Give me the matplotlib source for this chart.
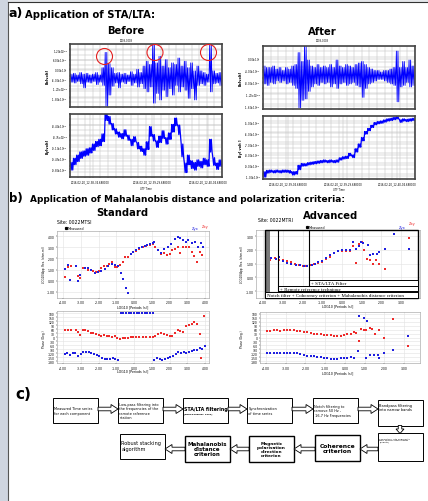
import numpy as np
import matplotlib
matplotlib.use("Agg")
import matplotlib.pyplot as plt
from matplotlib.patches import Rectangle, Circle, FancyArrow

W, H = 428, 502

# ---- panel a: time series envelopes (per bin, units of 1e-3 volt) ----
bx_before_hi = [-0.30, -0.25, -0.35, -0.20, -0.30, -0.25, -0.35, -0.30, -0.20, -0.35,
                0.10, 1.05, 0.35, 0.10, -0.25, -0.20, -0.30, -0.25, -0.35, -0.15,
                -0.30, 0.00, -0.20, 0.20, 0.50, 0.30, 1.60, 0.40, 0.80, 0.20,
                0.60, 0.10, 0.40, 0.30, 0.70, 0.20, 0.50, 0.10, 0.40, -0.10,
                0.20, -0.10, -0.20, -0.30, 1.55, -0.10, -0.25, -0.20]
bx_before_lo = [-0.80, -0.85, -0.75, -0.90, -1.15, -0.80, -0.85, -0.75, -0.95, -0.80,
                -1.00, -2.30, -1.60, -1.05, -0.85, -1.15, -0.80, -0.90, -0.75, -1.00,
                -0.85, -1.10, -0.90, -1.20, -1.40, -1.10, -2.10, -1.50, -1.90, -1.30,
                -1.70, -1.20, -1.60, -1.00, -1.40, -1.10, -1.30, -1.80, -1.20, -1.90,
                -1.00, -0.90, -1.00, -0.80, -1.40, -0.90, -0.85, -1.00]
by_before = [-9.70, -9.55, -9.45, -9.35, -9.30, -9.25, -9.20, -9.10, -9.00, -8.95,
             -8.80, -8.10, -8.25, -8.45, -8.60, -8.70, -8.75, -8.65, -8.80, -8.95,
             -8.85, -9.05, -9.15, -9.25, -9.05, -8.60, -8.80, -9.00, -8.85, -8.70,
             -8.90, -8.75, -8.50, -8.30, -8.55, -9.20, -9.75, -9.50, -9.65, -9.70,
             -9.60, -9.65, -9.55, -9.60, -9.05, -9.55, -9.70, -9.60]
by_before_sp = [0.12, 0.10, 0.10, 0.10, 0.08, 0.10, 0.08, 0.10, 0.08, 0.10,
                0.12, 0.15, 0.12, 0.10, 0.08, 0.08, 0.08, 0.10, 0.08, 0.10,
                0.08, 0.10, 0.08, 0.10, 0.12, 0.15, 0.10, 0.10, 0.10, 0.12,
                0.10, 0.10, 0.12, 0.12, 0.15, 0.20, 0.15, 0.15, 0.12, 0.12,
                0.10, 0.10, 0.10, 0.10, 0.20, 0.12, 0.10, 0.10]
bx_after_hi = [-0.25, -0.30, -0.30, -0.25, -0.35, -0.30, -0.40, -0.30, -0.35, -0.25,
               -0.20, 0.20, -0.10, 0.42, -0.05, -0.25, -0.30, -0.20, -0.30, -0.25,
               -0.30, -0.20, -0.30, -0.05, -0.25, -0.30, -0.20, -0.25, -0.30, -0.20,
               -0.15, -0.10, -0.20, -0.30, -0.35, -0.40, -0.40, -0.45, -0.40, -0.40,
               -0.35, -0.30, 0.25, -0.30, -0.10, -0.30, -0.05, -0.25]
bx_after_lo = [-0.85, -0.90, -0.80, -0.85, -0.75, -0.80, -0.75, -0.85, -0.80, -0.90,
               -1.00, -1.65, -1.40, -1.35, -1.10, -0.95, -0.85, -0.90, -0.80, -0.85,
               -0.80, -0.95, -0.85, -1.00, -0.85, -0.80, -0.90, -0.85, -0.80, -0.90,
               -0.95, -1.30, -1.00, -0.85, -0.80, -0.75, -0.70, -0.70, -0.75, -0.80,
               -0.85, -0.90, -1.45, -0.95, -0.90, -0.80, -0.95, -0.90]
by_after = [-9.85, -9.60, -9.55, -9.60, -9.55, -9.60, -9.55, -9.55, -9.60, -9.75,
            -9.70, -9.20, -8.95, -8.95, -8.85, -8.80, -8.75, -8.70, -8.65, -8.60,
            -8.65, -8.60, -8.65, -8.60, -8.40, -8.30, -8.25, -8.00, -8.15, -7.60,
            -7.15, -6.55, -5.95, -5.65, -5.35, -5.10, -5.00, -4.95, -4.85, -4.75,
            -4.70, -4.62, -4.55, -4.85, -4.75, -4.80, -4.75, -4.70]
by_after_sp = [0.25, 0.12, 0.10, 0.10, 0.10, 0.10, 0.10, 0.10, 0.12, 0.15,
               0.12, 0.20, 0.12, 0.10, 0.10, 0.10, 0.10, 0.10, 0.10, 0.10,
               0.10, 0.10, 0.10, 0.10, 0.10, 0.10, 0.10, 0.12, 0.12, 0.15,
               0.15, 0.15, 0.12, 0.10, 0.10, 0.10, 0.10, 0.10, 0.10, 0.10,
               0.10, 0.10, 0.10, 0.12, 0.10, 0.10, 0.10, 0.10]

before_time_ticks = [6.3, 25.9, 43.5]
before_time_labels = ["2016-02-20_12-38-34.688000", "2016-02-20_12-39-29.688000",
                      "2016-02-20_12-40-04.688000"]
after_time_ticks = [7.9, 25.2, 42.3]
after_time_labels = ["2016-02-20_12-39-04.688000", "2016-02-20_12-39-29.688000",
                     "2016-02-20_12-40-04.688000"]

bx_before_ticks = [1.2, 0.6, 0.0, -0.6, -1.2, -1.8]
bx_before_tl = ["1.20x10$^{-3}$", "6.00x10$^{-4}$", "0.00x10$^{0}$", "-6.00x10$^{-4}$",
                "-1.20x10$^{-3}$", "-1.80x10$^{-3}$"]
by_before_ticks = [-8.40, -8.75, -9.10, -9.45, -9.80]
by_before_tl = ["-8.40x10$^{-3}$", "-8.75x10$^{-3}$", "-9.10x10$^{-3}$",
                "-9.45x10$^{-3}$", "-9.80x10$^{-3}$"]
bx_after_ticks = [0.0, -0.4, -0.8, -1.2, -1.6]
bx_after_tl = ["0.00x10$^{0}$", "-4.00x10$^{-4}$", "-8.00x10$^{-4}$",
               "-1.20x10$^{-3}$", "-1.60x10$^{-3}$"]
by_after_ticks = [-5.0, -6.0, -7.0, -8.0, -9.0, -10.0]
by_after_tl = ["-5.00x10$^{-3}$", "-6.00x10$^{-3}$", "-7.00x10$^{-3}$",
               "-8.00x10$^{-3}$", "-9.00x10$^{-3}$", "-1.00x10$^{-2}$"]

# ---- panel b: apparent resistivity and phase ----
std_x_b = [-3.90, -3.72, -3.59, -3.28, -3.15, -3.02, -2.78, -2.60, -2.42, -2.21,
           -2.05, -1.88, -1.65, -1.46, -1.27, -1.10, -0.92, -0.76, -0.61, -0.46,
           -0.33, -0.18, -0.05, 0.12, 0.30, 0.45, 0.60, 0.75, 0.90, 1.05,
           1.15, 1.35, 1.50, 1.70, 1.90, 2.10, 2.30, 2.45, 2.60, 2.75,
           2.90, 3.05, 3.25, 3.45, 3.60, 3.75, 3.90]
std_res_b = [1.08, 1.38, 0.04, 1.29, -0.02, 0.55, 1.14, 1.10, 1.00, 0.70,
             0.78, 0.88, 1.02, 1.28, 1.50, 1.40, 1.30, 0.70, 0.19, -0.61,
             -1.06, 2.42, 2.57, 2.75, 2.90, 3.00, 3.10, 3.20, 3.28, 3.35,
             3.45, 2.75, 2.50, 2.85, 3.00, 3.30, 3.75, 3.95, 3.85, 3.65,
             3.50, 3.60, 3.40, 3.45, 3.00, 3.35, 3.00]
std_x_r = [-3.90, -3.72, -3.55, -3.28, -3.15, -3.02, -2.90, -2.78, -2.60, -2.45,
           -2.30, -2.15, -2.00, -1.85, -1.70, -1.55, -1.40, -1.25, -1.10, -0.95,
           -0.80, -0.65, -0.50, -0.35, -0.20, -0.05, 0.10, 0.30, 0.50, 0.70,
           0.90, 1.05, 1.20, 1.35, 1.50, 1.70, 1.85, 2.00, 2.15, 2.30,
           2.45, 2.60, 2.75, 2.95, 3.10, 3.25, 3.40, 3.55, 3.70, 3.85]
std_res_r = [0.35, 1.20, 1.30, 1.35, 0.45, 0.25, 1.15, 1.15, 1.00, 1.00,
             0.85, 0.80, 0.90, 1.10, 1.30, 1.35, 1.50, 1.70, 1.20, 1.20,
             1.45, 1.70, 2.10, 2.10, 2.40, 2.55, 2.70, 2.85, 3.00, 3.10,
             3.20, 3.30, 3.05, 2.75, 2.40, 2.45, 2.30, 2.40, 2.75, 2.85,
             3.05, 2.50, 3.05, 3.05, 3.05, 2.60, 2.20, 1.70, 2.55, 2.30]
std_phx_r = [-3.90, -3.72, -3.55, -3.28, -3.15, -3.02, -2.90, -2.78, -2.60, -2.45,
             -2.30, -2.15, -2.00, -1.85, -1.70, -1.55, -1.40, -1.25, -1.10, -0.95,
             -0.80, -0.65, -0.50, -0.35, -0.20, -0.05, 0.10, 0.30, 0.50, 0.70,
             0.90, 1.05, 1.20, 1.35, 1.50, 1.70, 1.85, 2.00, 2.15, 2.30,
             2.45, 2.60, 2.75, 2.95, 3.10, 3.25, 3.40, 3.55, 3.70, 3.75, 3.95]
std_ph_r = [50, 50, 50, 55, 35, 15, 50, 50, 45, 30,
            30, 20, 15, 10, 12, 10, 10, 0, 5, -10,
            -15, -10, -5, -5, -3, -3, -2, 0, 0, 0,
            0, 2, 10, 20, 30, 20, 15, 10, 5, 30,
            55, 45, 35, 85, 90, 100, 110, 100, 20, -160, 160]
std_phx_b = [-3.90, -3.75, -3.60, -3.45, -3.30, -3.15, -3.00, -2.85, -2.70, -2.55,
             -2.40, -2.25, -2.10, -1.95, -1.80, -1.65, -1.50, -1.35, -1.20, -1.05,
             -0.90, -0.75, -0.60, -0.45, -0.30, -0.15, 0.00, 0.15, 0.30, 0.45,
             0.60, 0.75, 0.90, 1.05, 1.15, 1.30, 1.45, 1.60, 1.75, 1.90,
             2.05, 2.20, 2.35, 2.50, 2.65, 2.80, 2.95, 3.10, 3.25, 3.40,
             3.55, 3.70, 3.85, 4.00]
std_ph_b = [-125, -120, -135, -120, -120, -140, -125, -115, -115, -115,
            -120, -130, -135, -145, -160, -165, -165, -163, -160, -168,
            -175, 178, 178, 178, 178, 178, 178, 178, 178, 178,
            178, 178, 178, 178, -175, -160, -168, -175, -165, -155,
            -150, -140, -125, -115, -120, -115, -120, -110, -105, -95,
            -95, -80, -90, -65]

adv_x_b = [-3.80, -3.58, -3.35, -3.18, -2.98, -2.78, -2.56, -2.34, -2.13, -1.93,
           -1.76, -1.54, -1.37, -1.20, -1.00, -0.81, -0.60, -0.38, -0.18, 0.02,
           0.20, 0.41, 0.55, 0.70, 0.87, 0.96, 1.09, 1.30, 1.43, 1.60,
           1.77, 1.90, 2.16, 2.62, 3.38]
adv_res_b = [1.55, 1.42, 1.35, 1.50, 1.16, 1.06, 0.99, 0.92, 0.87, 0.82,
             0.80, 0.87, 0.99, 1.08, 1.18, 1.38, 1.60, 1.79, 1.91, 1.96,
             1.96, 1.96, 2.54, 2.03, 2.25, 2.56, 2.49, 2.32, 1.64, 1.71,
             1.71, 1.84, 2.08, 3.17, 2.08]
adv_x_r = [-3.80, -3.63, -3.40, -3.18, -3.00, -2.80, -2.60, -2.40, -2.20, -2.00,
           -1.80, -1.60, -1.40, -1.20, -1.00, -0.80, -0.60, -0.40, -0.20, 0.00,
           0.20, 0.40, 0.55, 0.70, 0.84, 1.00, 1.14, 1.26, 1.43, 1.57,
           1.72, 1.89, 2.16, 3.38]
adv_res_r = [1.47, 1.28, 1.42, 1.28, 1.25, 1.20, 1.13, 1.00, 0.90, 0.85,
             0.82, 0.88, 0.98, 1.05, 1.12, 1.30, 1.50, 1.75, 1.88, 1.95,
             1.95, 1.95, 2.27, 1.06, 2.39, 2.56, 2.00, 1.35, 1.23, 0.99,
             1.23, 0.94, 0.58, 2.88]
adv_phx_r = [-3.95, -3.78, -3.61, -3.44, -3.27, -3.10, -2.93, -2.76, -2.59, -2.42,
             -2.25, -2.08, -1.91, -1.74, -1.57, -1.40, -1.23, -1.06, -0.89, -0.72,
             -0.55, -0.38, -0.21, -0.04, 0.13, 0.30, 0.45, 0.58, 0.70, 0.84,
             0.97, 1.09, 1.26, 1.40, 1.55, 1.72, 1.99, 2.44, 3.20]
adv_ph_r = [52, 52, 54, 55, 53, 55, 56, 55, 55, 53,
            50, 45, 40, 35, 30, 27, 25, 22, 20, 17,
            12, 10, 14, 20, 25, 28, 45, 32, -25, 65,
            55, 60, 75, 62, 25, 55, -5, 140, -65]
adv_phx_b = [-3.95, -3.78, -3.61, -3.44, -3.27, -3.10, -2.93, -2.76, -2.59, -2.42,
             -2.25, -2.08, -1.91, -1.74, -1.57, -1.40, -1.23, -1.06, -0.89, -0.72,
             -0.55, -0.38, -0.21, -0.04, 0.13, 0.30, 0.45, 0.67, 0.72, 0.96,
             1.10, 1.09, 1.30, 1.48, 1.68, 1.75, 1.99, 2.44, 3.20]
adv_ph_b = [-122, -120, -120, -118, -120, -118, -115, -117, -118, -122,
            -125, -130, -140, -145, -142, -148, -150, -155, -158, -162,
            -168, -165, -160, -158, -155, -150, -158, -100, 165, 150,
            130, -155, -135, -135, -135, -160, -120, -97, 10]

# ---- panel c: flowchart ----
flow_top = ["Measured Time series\nfor each component",
            "Low-pass filtering into\nthe frequencies of the\nremote reference\nstation",
            "STA/LTA filtering",
            "Synchronization\nof time series",
            "Notch filtering to\nremove 50 Hz ,\n 16.7 Hz Frequencies",
            "Bandpass filtering\ninto narrow bands"]
flow_bottom = ["Robust stacking\nalgorithm",
               "Mahalanobis\ndistance\ncriterion",
               "Magnetic\npolarisation\ndirection\ncriterion",
               "Coherence\ncriterion",
               "Separation into segments\nwith specific time length\n(Events)"]

BLUE = "#1f1fe0"
RED = "#ee2b2b"
GRIDC = "#bdbdbd"


def rect(x0, y0, x1, y1):
    return [x0 / W, 1 - y1 / H, (x1 - x0) / W, (y1 - y0) / H]


fig = plt.figure(figsize=(W / 100, H / 100), dpi=100)

bg = fig.add_axes([0, 0, 1, 1], zorder=-5)
bg.set_xlim(0, W)
bg.set_ylim(H, 0)
bg.axis("off")
bg.add_patch(Rectangle((0, 0), 8, H, fc="#cfd5e0", ec="none"))
bg.add_patch(Rectangle((8, 0), W - 8, 3, fc="#e4e6ea", ec="none"))
bg.plot([8, 8], [3, H], color="#555555", lw=0.8)
bg.plot([8, W], [3, 3], color="#333333", lw=0.8)


def ts_panel(box, ys_a, ys_b, ticks, tls, ylab, ylim, xt=None, xtl=None, lw=0.6):
    ax = fig.add_axes(rect(*box))
    n = len(ys_a)
    # two swings between the bin's upper and lower value per bin
    xs = np.repeat(np.arange(n), 4) + np.tile([0.12, 0.37, 0.62, 0.87], n)
    ys = np.column_stack([ys_a, ys_b, ys_a, ys_b]).ravel()
    ax.plot(xs, ys, color="#0000ff", lw=lw)
    ax.set_xlim(0, n)
    ax.set_ylim(*ylim)
    ax.set_yticks(ticks)
    ax.set_yticklabels(tls, fontsize=1.9)
    ax.set_xticks(np.arange(0, n + 0.1, 2.4), minor=True)
    ax.set_yticks(np.linspace(ylim[0], ylim[1], 13), minor=True)
    if xt is None:
        ax.set_xticks([])
    else:
        ax.set_xticks(xt)
        ax.set_xticklabels(xtl, fontsize=1.9)
    ax.grid(which="both", color=GRIDC, lw=0.35)
    ax.tick_params(which="both", length=1, width=0.3, pad=0.6)
    for s in ax.spines.values():
        s.set_linewidth(1.2)
        s.set_color("#444444")
    ax.set_ylabel(ylab, fontsize=2.4, fontweight="bold", labelpad=1)
    return ax


def spread(c, s):
    c = np.asarray(c)
    s = np.asarray(s)
    return c + s, c - s


ts_panel((70, 45, 222, 108), bx_before_hi, bx_before_lo, bx_before_ticks, bx_before_tl,
         "Bx[volt]", (-2.34, 1.57))
bh, bl = spread(by_before, by_before_sp)
ts_panel((70, 115, 222, 178), bh, bl, by_before_ticks, by_before_tl,
         "By[volt]", (-10.04, -8.05), before_time_ticks, before_time_labels, lw=0.9)
ts_panel((263, 47, 415, 110), bx_after_hi, bx_after_lo, bx_after_ticks, bx_after_tl,
         "Bx[volt]", (-1.69, 0.42))
ah, al = spread(by_after, by_after_sp)
ts_panel((263, 117, 415, 180), ah, al, by_after_ticks, by_after_tl,
         "By[ volt ]", (-10.28, -4.38), after_time_ticks, after_time_labels, lw=0.9)


def mt_panel(box, xlim, ylim, xticks, yticks, yfmt):
    ax = fig.add_axes(rect(*box))
    ax.set_xlim(*xlim)
    ax.set_ylim(*ylim)
    ax.set_xticks(xticks)
    ax.set_xticklabels(["%.2f" % v for v in xticks], fontsize=2.2)
    ax.set_yticks(yticks)
    ax.set_yticklabels([yfmt % v for v in yticks], fontsize=2.2)
    ax.grid(color="#e2e2e2", lw=0.4)
    ax.tick_params(length=1, width=0.3, pad=0.8)
    for s in ax.spines.values():
        s.set_linewidth(0.4)
        s.set_color("#999999")
    return ax


mk = dict(ls="none", marker="s", ms=1.6, mew=0)
phase_ticks = list(range(180, -181, -30))

a1 = mt_panel((57, 232, 209, 299), (-4.34, 4.22), (-1.55, 4.45), list(range(-4, 5)),
              list(range(-1, 5)), "%.2f")
a1.plot(std_x_r, std_res_r, color=RED, **mk)
a1.plot(std_x_b, std_res_b, color=BLUE, **mk)
p1 = mt_panel((57, 312, 209, 364), (-4.34, 4.22), (-195, 195), list(range(-4, 5)),
              phase_ticks, "%d")
p1.plot(std_phx_r, std_ph_r, color=RED, **mk)
p1.plot(std_phx_b, std_ph_b, color=BLUE, **mk)

a2 = mt_panel((256, 231, 420, 299), (-4.36, 3.96), (-1.5, 3.44), list(range(-4, 4)),
              list(range(-1, 4)), "%.2f")
a2.plot(adv_x_r, adv_res_r, color=RED, **mk)
a2.plot(adv_x_b, adv_res_b, color=BLUE, **mk)
p2 = mt_panel((260, 313, 420, 364), (-4.30, 3.81), (-195, 195), list(range(-4, 4)),
              phase_ticks, "%d")
p2.plot(adv_phx_r, adv_ph_r, color=RED, **mk)
p2.plot(adv_phx_b, adv_ph_b, color=BLUE, **mk)

# ---- overlay for text, circles, boxes, flowchart ----
ov = fig.add_axes([0, 0, 1, 1], zorder=10)
ov.set_xlim(0, W)
ov.set_ylim(H, 0)
ov.axis("off")
ov.patch.set_alpha(0)

bold = dict(fontweight="bold", color="black")
ov.text(8.5, 14, "a)", fontsize=9, va="center", **bold)
ov.text(25, 14.5, "Application of STA/LTA:", fontsize=7.2, va="center", **bold)
ov.text(126, 31.5, "Before", fontsize=7.2, ha="center", va="center", **bold)
ov.text(322, 32, "After", fontsize=7.2, ha="center", va="center", **bold)
ov.text(126, 40.5, "0008-0003", fontsize=1.8, ha="center", va="center")
ov.text(322, 41.5, "0008-0003", fontsize=1.8, ha="center", va="center")
ov.text(146, 189, "UTF Time", fontsize=1.8, ha="center", va="center")
ov.text(339, 190, "UTF Time", fontsize=1.8, ha="center", va="center")

for cx, cy in [(104.5, 57.5), (155, 53.5), (208.5, 53.5)]:
    ov.add_patch(Circle((cx, cy), 8, fc="none", ec="#e32020", lw=0.8))

ov.text(9, 199, "b)", fontsize=8.5, va="center", **bold)
ov.text(30, 199.5, "Application of Mahalanobis distance and polarization criteria:",
        fontsize=6.45, va="center", **bold)
ov.text(122, 213, "Standard", fontsize=7.2, ha="center", va="center", **bold)
ov.text(331, 216, "Advanced", fontsize=7.2, ha="center", va="center", **bold)
ov.text(57, 222.5, "Site: 0022MTSI", fontsize=3.3, va="center")
ov.text(258, 220.5, "Site: 0022MTRI", fontsize=3.3, va="center")

for lx, ly in [(66, 229), (307, 228)]:
    ov.plot([lx], [ly], marker="s", ms=1.3, color="black")
    ov.text(lx + 2, ly, "Measured", fontsize=2.4, va="center")
ov.text(205, 227, "Zxy", fontsize=2.6, color=RED, ha="center", va="center")
ov.text(195, 229.5, "Zyx", fontsize=2.6, color=BLUE, ha="center", va="center")
ov.text(412, 224, "Zxy", fontsize=2.6, color=RED, ha="center", va="center")
ov.text(402, 228, "Zyx", fontsize=2.6, color=BLUE, ha="center", va="center")

for yx, lx in [(44, 133), (242, 338)]:
    ov.text(yx, 265, "LOG10(App. Res. (ohm.m))", fontsize=2.0, rotation=90,
            ha="center", va="center")
    ov.text(yx, 339, "Phase (Deg.)", fontsize=2.0, rotation=90, ha="center", va="center")
ov.text(133, 307, "LOG10 [Periods (s)]", fontsize=2.3, ha="center", va="center")
ov.text(133, 371, "LOG10 [Periods (s)]", fontsize=2.3, ha="center", va="center")
ov.text(338, 306, "LOG10 [Periods (s)]", fontsize=2.3, ha="center", va="center")
ov.text(338, 373, "LOG10 [Periods (s)]", fontsize=2.3, ha="center", va="center")

# filter annotation boxes on the advanced resistivity plot
ov.add_patch(Rectangle((265, 231), 5, 68, fc="#7a7a7a", ec="none"))
ov.add_patch(Rectangle((265, 231), 153, 68, fc="none", ec="black", lw=1.0))
ov.plot([278.5, 278.5], [231, 292.3], color="black", lw=0.8)
ov.plot([309, 309], [231, 286.5], color="black", lw=0.8)
serif = dict(family="Liberation Serif", fontsize=3.6, va="center")
ov.add_patch(Rectangle((309, 280.8), 109, 5.8, fc="white", ec="black", lw=0.7))
ov.text(311, 283.8, "+ STA/LTA Filter", **serif)
ov.add_patch(Rectangle((278.5, 286.6), 139.5, 5.8, fc="white", ec="black", lw=0.7))
ov.text(280, 289.6, "+ Remote reference technique", **serif)
ov.add_patch(Rectangle((265, 293.2), 153, 5.8, fc="white", ec="black", lw=0.7))
ov.text(267, 296.2, "Notch filter + Coherency criterion + Mahalanobis distance criterion",
        **serif)

# ---- panel c flowchart ----
ov.text(15, 395, "c)", fontsize=11, va="center", **bold)

top_x = [53, 118, 183, 247, 313, 378]
top_w = 45
for i, (x0, label) in enumerate(zip(top_x, flow_top)):
    y0, h = (401, 26) if i == 5 else (399, 25)
    ov.add_patch(Rectangle((x0, y0), top_w, h, fc="white", ec="black", lw=0.7))
    if i == 2:
        ov.text(x0 + 1.5, y0 + 11, label, fontsize=3.4, fontweight="bold", va="center")
        ov.text(x0 + 1.5, y0 + 15, "(Earle&Shearer, 1994)", fontsize=1.6,
                fontweight="bold", va="center")
    elif i == 5:
        ov.text(x0 + 1.5, y0 + 7, label, fontsize=2.6, va="center")
    else:
        ov.text(x0 + 1.5, y0 + h / 2, label, fontsize=2.5, va="center",
                linespacing=1.15)
    if i < 5:
        xs = x0 + top_w
        ov.add_patch(FancyArrow(xs, 410, top_x[i + 1] - xs, 0, width=3.6,
                                head_width=9, head_length=7, length_includes_head=True,
                                fc="white", ec="black", lw=0.6))

ov.add_patch(FancyArrow(400, 426.5, 0, 8, width=3.5, head_width=8, head_length=4.5,
                        length_includes_head=True, fc="white", ec="black", lw=0.6))

bot_x = [120, 185, 249, 315, 378]
bot_y = [(435, 25), (437, 26), (437, 26), (436, 26), (434, 28)]
bot_fs = [3.6, 4.0, 3.1, 4.3, 1.7]
for i, (x0, label) in enumerate(zip(bot_x, flow_bottom)):
    y0, h = bot_y[i]
    ov.add_patch(Rectangle((x0, y0), 45, h, fc="white", ec="black",
                           lw=0.7 if i in (0, 4) else 1.0))
    if i in (0, 4):
        ov.text(x0 + 1.5, y0 + (h / 2 - 1 if i == 0 else 7), label, fontsize=bot_fs[i],
                va="center", linespacing=1.3)
    else:
        ov.text(x0 + 22.5, y0 + h / 2, label, fontsize=bot_fs[i], fontweight="bold",
                ha="center", va="center", linespacing=1.0)
    if i > 0:
        xe = bot_x[i - 1] + 45
        ov.add_patch(FancyArrow(x0, 450, xe - x0, 0, width=3.6, head_width=9,
                                head_length=7, length_includes_head=True,
                                fc="white", ec="black", lw=0.6))

fig.savefig("out.png", dpi=100)
